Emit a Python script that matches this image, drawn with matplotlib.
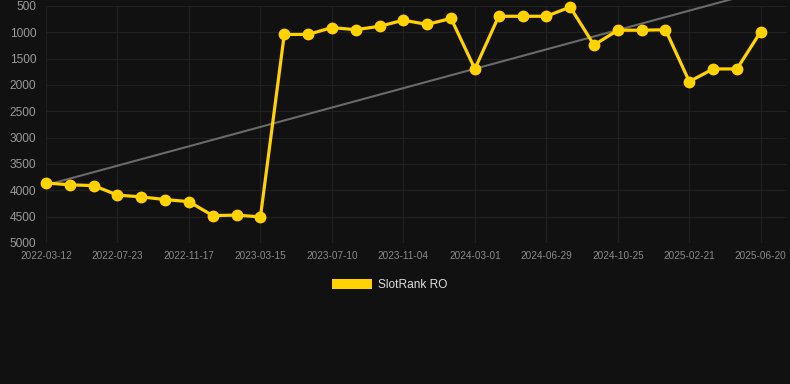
import numpy as np
from matplotlib import pyplot as plt
from matplotlib.patches import Patch

plt.rcParams['font.family'] = ['Liberation Sans', 'DejaVu Sans']

# rank values, one per sample (31 samples, labels on every 3rd)
ranks = [3860, 3895, 3910, 4090, 4125, 4175, 4215, 4480, 4470, 4505,
         1040, 1040, 910, 950, 885, 770, 850, 735, 1695, 695,
         695, 695, 520, 1240, 960, 960, 950, 1935, 1695, 1695, 985]
tick_labels = ['2022-03-12', '2022-07-23', '2022-11-17', '2023-03-15',
               '2023-07-10', '2023-11-04', '2024-03-01', '2024-06-29',
               '2024-10-25', '2025-02-21', '2025-06-20']
trend_ends = [3900, 220]
y_ticks = [500, 1000, 1500, 2000, 2500, 3000, 3500, 4000, 4500, 5000]

bg = '#111111'
gold = '#ffd200'

fig = plt.figure(figsize=(7.9, 3.84), dpi=100, facecolor=bg)
ax = fig.add_axes([46/790, 1-243/384, (787-46)/790, (243-6)/384])
ax.set_facecolor(bg)

x = np.arange(len(ranks))
ax.plot([x[0], x[-1]], trend_ends, color='#6a6a6a', lw=1.5, zorder=2, clip_on=False)
ax.plot(x, ranks, color=gold, lw=2.3, marker='o', markersize=7.5,
        markerfacecolor=gold, markeredgecolor=gold, zorder=3, clip_on=False)

ax.set_xlim(0, 31.1)
ax.set_ylim(5000, 500)
ax.set_yticks(y_ticks)
ax.set_yticklabels([str(v) for v in y_ticks])
ax.set_xticks(range(0, len(ranks), 3))
ax.set_xticklabels(tick_labels)
ax.grid(True, color='#202020', lw=0.9)
ax.set_axisbelow(True)
for s in ax.spines.values():
    s.set_visible(False)
ax.tick_params(axis='y', length=0, pad=7, labelsize=8.6, labelcolor='#9a9a9a')
ax.tick_params(axis='x', length=0, pad=6, labelsize=7.2, labelcolor='#8a8a8a')

fig.legend(handles=[Patch(facecolor=gold, edgecolor='none')], labels=['SlotRank RO'],
           loc='center', bbox_to_anchor=(390/790, 1-285/384), frameon=False,
           handlelength=3.3, handleheight=1.0, handletextpad=0.55,
           prop={'size': 8.6}, labelcolor='#dddddd')

fig.savefig('out.png', dpi=100, facecolor=bg)
